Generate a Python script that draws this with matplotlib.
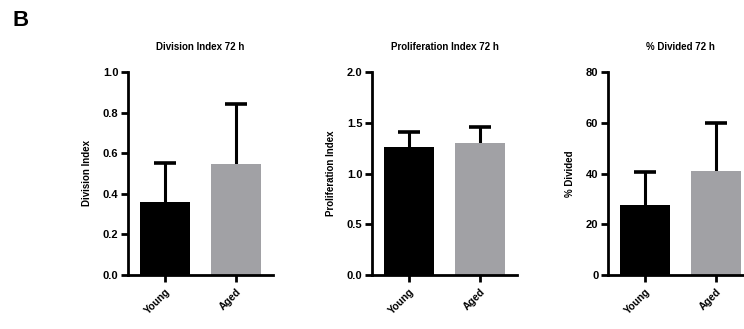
import matplotlib.pyplot as plt
import numpy as np

plt.rcParams['font.family'] = ['Liberation Sans', 'DejaVu Sans']
plt.rcParams['font.weight'] = 'bold'

groups = ['Young', 'Aged']
bar_colors = ['#000000', '#a1a1a5']

titles = ['Division Index 72 h', 'Proliferation Index 72 h', '% Divided 72 h']
ylabels = ['Division Index', 'Proliferation Index', '% Divided']

division_mean = [0.36, 0.545]
division_err = [0.19, 0.295]
prolif_mean = [1.26, 1.30]
prolif_err = [0.15, 0.16]
divided_mean = [27.5, 41.0]
divided_err = [13.0, 19.0]

means = [division_mean, prolif_mean, divided_mean]
errs = [division_err, prolif_err, divided_err]
ylims = [(0, 1.0), (0, 2.0), (0, 80)]
yticks = [[0.0, 0.2, 0.4, 0.6, 0.8, 1.0],
          [0.0, 0.5, 1.0, 1.5, 2.0],
          [0, 20, 40, 60, 80]]
yfmt = ['{:.1f}', '{:.1f}', '{:d}']

W, H = 744, 329
fig = plt.figure(figsize=(W / 100, H / 100), dpi=100)

# axes left edges in pixels
lefts = [128, 372, 608]
bottom_px, top_px = 275, 72
width_px = 145

x = np.arange(len(groups))
for i in range(3):
    ax = fig.add_axes([lefts[i] / W, 1 - bottom_px / H,
                       width_px / W, (bottom_px - top_px) / H])
    ax.bar(x, means[i], width=0.7, color=bar_colors, zorder=2)
    # upper-only error bars with a cap
    tops = np.array(means[i]) + np.array(errs[i])
    ax.vlines(x, means[i], tops, colors='black', linewidth=2.2, zorder=1)
    ax.hlines(tops, x - 0.16, x + 0.16, colors='black', linewidth=2.6,
              zorder=1)
    ax.set_xlim(-0.52, 1.52)
    ax.set_ylim(*ylims[i])
    ax.set_yticks(yticks[i])
    ax.set_yticklabels([yfmt[i].format(v) for v in yticks[i]],
                       fontsize=8, fontweight='bold')
    ax.set_xticks(x)
    ax.set_xticklabels(groups, rotation=45, ha='right', rotation_mode='anchor',
                       fontsize=7.5, fontweight='bold')
    for s in ['top', 'right']:
        ax.spines[s].set_visible(False)
    for s in ['left', 'bottom']:
        ax.spines[s].set_linewidth(2)
    ax.tick_params(width=2, length=5, pad=2)
    ax.tick_params(axis='x', pad=3)
    ax.set_title(titles[i], fontsize=7, fontweight='bold', pad=16)
    ax.set_ylabel(ylabels[i], fontsize=7, fontweight='bold', labelpad=8)

fig.text(12 / W, 1 - 26 / H, 'B', fontsize=16, fontweight='bold')

fig.savefig('out.png', dpi=100)
